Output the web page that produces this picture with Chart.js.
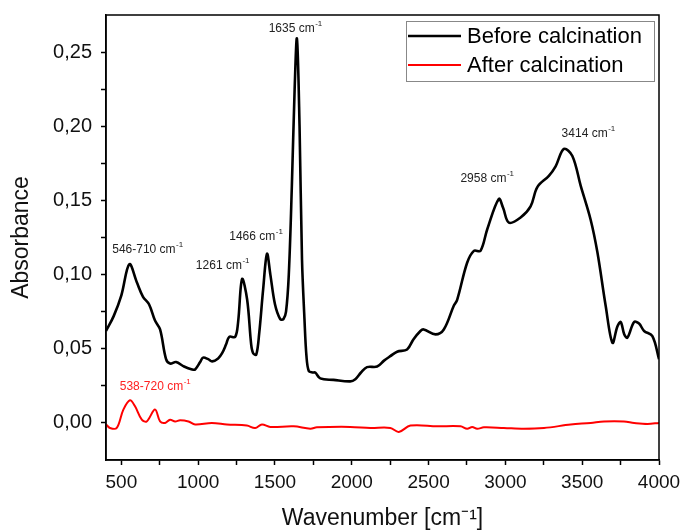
<!DOCTYPE html>
<html>
<head>
<meta charset="utf-8">
<script src="https://cdn.jsdelivr.net/npm/chart.js@4.4.0/dist/chart.umd.min.js"></script>
<style>
html,body{margin:0;padding:0;background:#fff;}
#wrap{width:681px;height:532px;}
</style>
</head>
<body>
<div id="wrap"><canvas id="c" width="681" height="532"></canvas></div>
<script>
// ---- Data ----
const beforeX = [400,450,500,552,600,641,680,719,752,791,817,856,908,961,980,1013,1032,1065,1091,1130,1156,1182,1202,1241,1260,1286,1319,1345,1358,1378,1397,1423,1448,1470,1500,1534,1555,1572,1590,1610,1628,1643,1660,1676,1692,1705,1720,1745,1762,1795,1881,1990,2023,2060,2099,2165,2210,2251,2295,2360,2401,2447,2468,2545,2599,2664,2686,2751,2795,2838,2882,2957,2985,3023,3099,3164,3208,3283,3327,3381,3436,3490,3555,3599,3653,3697,3729,3751,3773,3794,3838,3870,3903,3957,4000];
const beforeY = [0.062,0.072,0.086,0.107,0.095,0.085,0.080,0.069,0.063,0.043,0.040,0.041,0.038,0.036,0.036,0.041,0.044,0.043,0.0415,0.0435,0.047,0.053,0.058,0.058,0.068,0.097,0.083,0.053,0.047,0.046,0.060,0.090,0.114,0.100,0.080,0.070,0.070,0.075,0.100,0.160,0.225,0.259,0.200,0.110,0.070,0.045,0.035,0.034,0.034,0.030,0.029,0.028,0.0295,0.034,0.0376,0.038,0.042,0.045,0.048,0.0495,0.0563,0.062,0.063,0.0597,0.063,0.079,0.083,0.108,0.116,0.116,0.1306,0.151,0.145,0.135,0.1385,0.146,0.159,0.1666,0.173,0.1847,0.180,0.160,0.137,0.115,0.0788,0.054,0.065,0.068,0.060,0.0574,0.068,0.067,0.062,0.0585,0.043];
const afterX = [400,426,470,513,556,589,633,665,719,752,785,817,850,882,937,980,1089,1187,1317,1371,1415,1469,1621,1730,1773,1990,2121,2251,2306,2382,2556,2708,2751,2784,2816,2860,2990,3120,3251,3425,3555,3642,3772,3838,3925,4000];
const afterY = [-0.001,-0.0034,-0.0034,0.009,0.0153,0.0112,0.0022,0.001,0.009,0.001,0,0.0022,0.001,0.0018,0.001,-0.001,0,-0.001,-0.0018,-0.0034,-0.001,-0.0027,-0.0023,-0.0039,-0.003,-0.0027,-0.0034,-0.0034,-0.0061,-0.0018,-0.0023,-0.0023,-0.004,-0.0027,-0.004,-0.003,-0.0034,-0.0039,-0.0034,-0.0011,0,0.001,0.001,0,-0.0007,0];
const seriesLabels = ["Before calcination","After calcination"];
const xTickValues = [500,750,1000,1250,1500,1750,2000,2250,2500,2750,3000,3250,3500,3750,4000];
const yTickValues = [0,0.025,0.05,0.075,0.1,0.125,0.15,0.175,0.2,0.225,0.25];
const peakLabels = [
  {text:"1635 cm", x:1632, y:0.266, color:"#222"},
  {text:"546-710 cm", x:670, y:0.1165, color:"#222"},
  {text:"1466 cm", x:1375, y:0.1253, color:"#222"},
  {text:"1261 cm", x:1158, y:0.1057, color:"#222"},
  {text:"2958 cm", x:2880, y:0.1645, color:"#222"},
  {text:"3414 cm", x:3539, y:0.195, color:"#222"},
  {text:"538-720 cm", x:719, y:0.0245, color:"#ff2020"}
];

const toPts = (xs, ys) => xs.map((x,i)=>({x:x, y:ys[i]}));

const framePlugin = {
  id:'frame',
  afterDraw(chart){
    const ctx = chart.ctx, a = chart.chartArea;
    const xs = chart.scales.x, ys = chart.scales.y;
    ctx.save();
    ctx.strokeStyle = '#000'; ctx.lineWidth = 1.5;
    ctx.strokeRect(a.left, a.top, a.right-a.left, a.bottom-a.top);
    // peak labels
    peakLabels.forEach(p=>{
      const px = xs.getPixelForValue(p.x), py = ys.getPixelForValue(p.y);
      ctx.font = '12px "Liberation Sans", Arial, sans-serif';
      const w1 = ctx.measureText(p.text).width;
      ctx.font = '8px "Liberation Sans", Arial, sans-serif';
      const w2 = ctx.measureText('-1').width;
      const x0 = px - (w1+w2)/2;
      ctx.fillStyle = p.color; ctx.textBaseline = 'middle'; ctx.textAlign = 'left';
      ctx.font = '12px "Liberation Sans", Arial, sans-serif';
      ctx.fillText(p.text, x0, py);
      ctx.font = '8px "Liberation Sans", Arial, sans-serif';
      ctx.fillText('-1', x0 + w1 + 0.5, py - 5);
    });
    // legend
    ctx.strokeStyle = '#888'; ctx.lineWidth = 1;
    ctx.strokeRect(406.5, 21.5, 248, 60);
    chart.data.datasets.forEach((ds,i)=>{
      const ly = 36 + i*29;
      ctx.strokeStyle = ds.borderColor; ctx.lineWidth = i===0 ? 2.5 : 2;
      ctx.beginPath(); ctx.moveTo(408, ly); ctx.lineTo(461, ly); ctx.stroke();
      ctx.fillStyle = '#000'; ctx.font = '22px "Liberation Sans", Arial, sans-serif';
      ctx.textBaseline = 'middle'; ctx.textAlign = 'left';
      ctx.fillText(ds.label, 467, ly + 1);
    });
    ctx.restore();
  }
};

new Chart(document.getElementById('c'), {
  type:'line',
  data:{
    datasets:[
      {label:seriesLabels[0], data:toPts(beforeX,beforeY), borderColor:'#000000', borderWidth:2.6, pointRadius:0, tension:0.35, fill:false},
      {label:seriesLabels[1], data:toPts(afterX,afterY), borderColor:'#ff0000', borderWidth:2, pointRadius:0, tension:0.35, fill:false}
    ]
  },
  options:{
    responsive:false,
    animation:false,
    devicePixelRatio:1,
    layout:{padding:{left:0, top:15, right:22, bottom:0}},
    plugins:{legend:{display:false}, tooltip:{enabled:false}},
    scales:{
      x:{
        type:'linear', min:400, max:4000,
        afterBuildTicks:(s)=>{ s.ticks = xTickValues.map(v=>({value:v})); },
        afterFit:(s)=>{ s.height = 72; s.paddingLeft = 0; s.paddingRight = 0; },
        grid:{drawOnChartArea:false, drawTicks:true, tickLength:5, tickColor:'#000', tickWidth:1.5},
        border:{color:'#000', width:1.5},
        ticks:{
          autoSkip:false, maxRotation:0, padding:6, color:'#111',
          font:{family:'"Liberation Sans", Arial, sans-serif', size:19},
          callback:(v)=> (v % 500 === 0 ? String(v) : '')
        },
        title:{display:true, text:'Wavenumber [cm⁻¹]', color:'#111', padding:{top:0,bottom:0},
          font:{family:'"Liberation Sans", Arial, sans-serif', size:23}}
      },
      y:{
        type:'linear', min:-0.025, max:0.275,
        afterBuildTicks:(s)=>{ s.ticks = yTickValues.map(v=>({value:v})); },
        afterFit:(s)=>{ s.width = 106; s.paddingTop = 0; s.paddingBottom = 0; },
        grid:{drawOnChartArea:false, drawTicks:true, tickLength:5, tickColor:'#000', tickWidth:1.5},
        border:{color:'#000', width:1.5},
        ticks:{
          autoSkip:false, padding:9, color:'#111',
          font:{family:'"Liberation Sans", Arial, sans-serif', size:20},
          callback:(v)=>{ const k = Math.round(v*1000); return (k % 50 === 0) ? (k/1000).toFixed(2).replace('.',',') : ''; }
        },
        title:{display:true, text:'Absorbance', color:'#111', padding:{top:8,bottom:0},
          font:{family:'"Liberation Sans", Arial, sans-serif', size:23}}
      }
    }
  },
  plugins:[framePlugin]
});
</script>
</body>
</html>
